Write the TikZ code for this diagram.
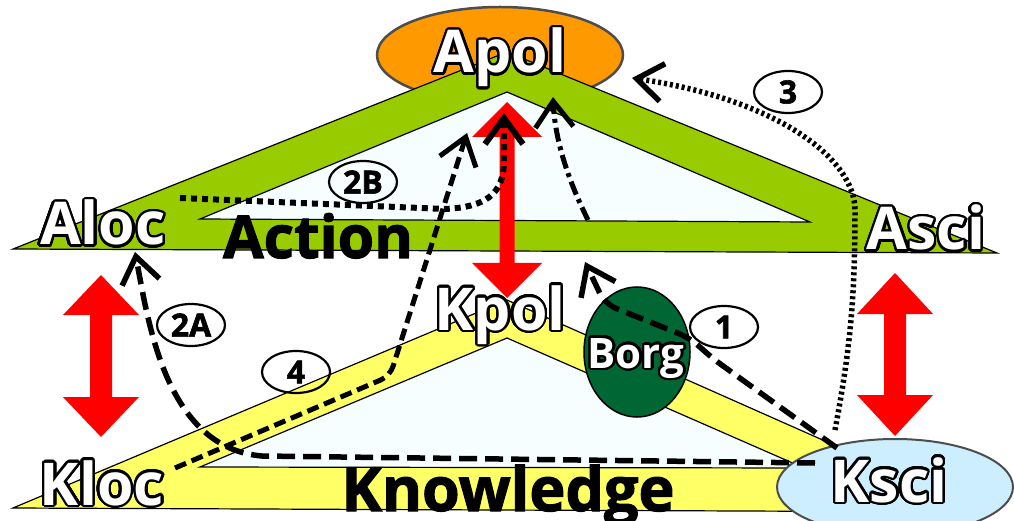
\documentclass[tikz,border=0pt]{standalone}
\usepackage{fontspec}
\setmainfont{Open Sans}
\newfontfamily\heavy{Open Sans}[FakeBold=1.8]
\usepackage{contour}
\contourlength{2.4pt}
\contournumber{32}
\usetikzlibrary{arrows.meta,shapes.geometric}
\definecolor{ActGreen}{HTML}{99CC00}
\definecolor{KnowYellow}{HTML}{FFFF66}
\definecolor{PaleFill}{HTML}{F7FEFF}
\definecolor{PolOrange}{HTML}{FF9900}
\definecolor{SciBlue}{HTML}{CCEEFF}
\definecolor{BorgGreen}{HTML}{006633}
\definecolor{RimGrey}{HTML}{4D4D4D}
\newcommand{\outl}[1]{\textcolor{white}{\contour{black}{#1}}}

\begin{document}
\begin{tikzpicture}[
  x=1pt,y=-1pt,
  every node/.style={inner sep=0pt},
  lab/.style={font=\bfseries\fontsize{59}{60}\selectfont,anchor=base},
  word/.style={font=\heavy\bfseries\fontsize{59}{60}\selectfont,anchor=base},
  tag/.style={ellipse,draw,line width=2.2pt,minimum width=68pt,minimum height=42pt,font=\heavy\bfseries\fontsize{32}{34}\selectfont},
  band/.style={draw=black,line width=1.2pt},
  ptr/.style={line width=5.5pt,-{Straight Barb[length=26pt,width=38pt]}},
  dsh/.style={ptr,dash pattern=on 18pt off 8pt},
  dshort/.style={ptr,line width=5pt,dash pattern=on 12pt off 6pt},
  dotsq/.style={ptr,line width=6pt,dash pattern=on 6pt off 5pt},
  dotfine/.style={ptr,line width=5.5pt,dash pattern=on 3pt off 3pt},
  dshdot/.style={ptr,line width=5pt,dash pattern=on 14pt off 5pt on 4pt off 5pt}
]
\useasboundingbox (0,0) rectangle (1014,521);
% top ellipse sits behind the action band
\node[ellipse,draw=RimGrey,line width=2.5pt,fill=PolOrange,minimum width=246pt,minimum height=96pt] (Apol) at (500,55) {};
% action band
\path[band,fill=ActGreen] (13,249) -- (507,52) -- (997,253) -- cycle;
\path[band,fill=PaleFill] (200,219) -- (507,92) -- (810,222) -- cycle;
% knowledge band
\path[band,fill=KnowYellow] (13,508) -- (507,300) -- (985,512) -- cycle;
\path[band,fill=PaleFill] (200,467) -- (507,338) -- (804,468) -- cycle;
\node[ellipse,draw=black,line width=1.5pt,fill=BorgGreen,minimum width=106pt,minimum height=130pt] (Borg) at (637,352) {};
\node[ellipse,draw=RimGrey,line width=2pt,fill=SciBlue,minimum width=236pt,minimum height=96pt] (Ksci) at (895,487) {};
% red double arrows
\foreach \x/\t/\b/\h/\s/\l in {101/275/437/38/11/40, 895/273/436/38/11/41, 507/102/298/35/7.5/35}
  \fill[red] (\x,\t) -- (\x+\h,\t+\l) -- (\x+\s,\t+\l) -- (\x+\s,\b-\l) -- (\x+\h,\b-\l)
    -- (\x,\b) -- (\x-\h,\b-\l) -- (\x-\s,\b-\l) -- (\x-\s,\t+\l) -- (\x-\h,\t+\l) -- cycle;
% ends of the paths
\coordinate (s1) at (837,448);  \coordinate (e1) at (585,262);
\coordinate (s2a) at (815,463); \coordinate (e2a) at (135,252);
\coordinate (s2b) at (180,198); \coordinate (e2b) at (504,113);
\coordinate (s3) at (835,430);  \coordinate (e3) at (632,78);
\coordinate (s4) at (175,468);  \coordinate (e4) at (467,133);
\coordinate (s5) at (588,220);  \coordinate (e5) at (553,97);
\draw[dsh,rounded corners=12pt] (s1) -- (712,358) -- (690,338) -- (605,304) -- (e1);
\draw[dsh] (s2a) -- (262,456) .. controls (165,448) and (148,320) .. (e2a);
\draw[dotsq] (s2b) -- (445,209) .. controls (485,207) and (504,195) .. (504,160) -- (e2b);
\draw[dotfine] (s3) .. controls (850,350) and (855,300) .. (855,210) .. controls (855,160) and (780,100) .. (e3);
\draw[dshort,rounded corners=10pt] (s4) -- (390,376) -- (e4);
\draw[dshdot] (s5) .. controls (568,180) and (555,140) .. (e5);
% numbered tags
\node[tag] (t1) at (724,327) {1};
\node[tag] (t2a) at (191,325) {2A};
\node[tag] (t2b) at (363,182) {2B};
\node[tag] (t3) at (788,92) {3};
\node[tag] (t4) at (296,372) {4};
% labels
\node[lab] (ApolT) at (500,73) {\outl{Apol}};
\node[lab] (AlocT) at (103,245) {\outl{Aloc}};
\node[lab] (AsciT) at (926,250) {\outl{Asci}};
\node[lab] (KpolT) at (500,330) {\outl{Kpol}};
\node[lab] (KlocT) at (102,505) {\outl{Kloc}};
\node[lab] (KsciT) at (889,502) {\outl{Ksci}};
\node[lab,font=\bfseries\fontsize{42}{44}\selectfont] (BorgT) at (636,368) {\outl{Borg}};
\node[word] (act) at (318,258) {Action};
\node[word,font=\heavy\bfseries\fontsize{61}{62}\selectfont] (know) at (508,511) {Knowledge};
\end{tikzpicture}
\end{document}
